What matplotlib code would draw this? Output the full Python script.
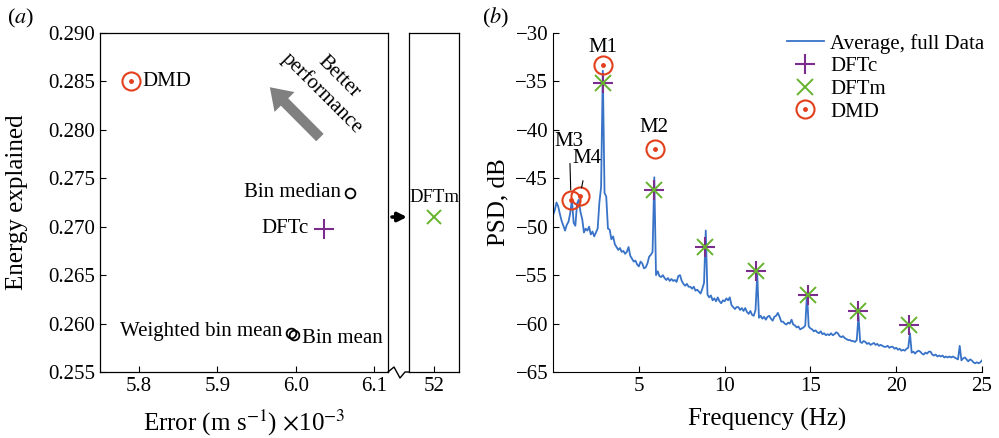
import numpy as np
import matplotlib.pyplot as plt
from matplotlib.lines import Line2D

plt.rcParams['font.family'] = ['Liberation Serif', 'DejaVu Serif']
plt.rcParams['mathtext.fontset'] = 'stix'

# ---- panel (a): error vs energy explained
methods = ["DMD", "Bin median", "DFTc", "Weighted bin mean", "Bin mean"]
err = [5.79, 6.07, 6.036, 5.994, 5.998]
energy = [0.285, 0.2735, 0.2698, 0.2590, 0.2588]
dftm_err = [52.0]
dftm_energy = [0.271]

# ---- panel (b): averaged PSD, one value every 0.1 Hz from 0 to 25 Hz
psd_db = [
    -48.8, -48.3, -47.5, -47.9, -48.7, -49.4, -49.9, -50.4, -49.8, -49.5,
    -48.6, -47.2, -49.6, -49.9, -47.6, -47.2, -48.5, -49.2, -50.6, -50.2,
    -50.4, -50.0, -50.8, -50.5, -51.0, -50.6, -50.2, -47.5, -45.9, -33.9,
    -46.5, -46.9, -50.2, -50.3, -51.3, -51.0, -51.8, -52.1, -52.4, -52.2,
    -52.6, -52.5, -52.8, -52.6, -52.1, -53.0, -53.3, -53.6, -53.5, -53.9,
    -54.1, -53.6, -53.8, -54.3, -54.2, -53.8, -53.1, -52.9, -52.6, -44.9,
    -55.0, -54.6, -55.1, -55.2, -55.0, -55.3, -55.5, -55.3, -55.6, -55.4,
    -55.6, -55.5, -55.7, -55.1, -55.0, -55.6, -55.9, -56.1, -55.9, -56.2,
    -56.2, -56.4, -56.2, -56.6, -56.5, -56.7, -56.9, -56.4, -55.8, -50.4,
    -57.0, -57.3, -57.1, -57.6, -57.4, -57.7, -57.3, -57.7, -57.9, -57.6,
    -57.7, -57.4, -57.6, -57.3, -58.1, -58.3, -58.5, -58.3, -58.3, -58.6,
    -58.4, -58.7, -58.4, -58.8, -59.0, -58.7, -59.1, -59.2, -58.6, -54.9,
    -59.4, -59.2, -59.5, -59.3, -59.6, -59.3, -59.2, -59.5, -59.7, -59.3,
    -59.2, -58.9, -59.3, -59.8, -59.8, -60.0, -60.1, -59.9, -60.0, -59.6,
    -60.1, -60.2, -60.4, -60.3, -60.6, -60.5, -60.4, -60.2, -56.9, -60.3,
    -60.5, -60.6, -60.8, -60.7, -60.9, -61.0, -60.8, -61.1, -61.0, -61.2,
    -61.1, -61.2, -61.0, -61.2, -61.1, -60.9, -61.0, -61.3, -61.4, -61.3,
    -61.5, -61.6, -61.7, -61.7, -61.8, -61.8, -61.9, -61.7, -59.2, -61.9,
    -62.0, -61.8, -61.9, -62.1, -62.0, -62.2, -62.1, -62.0, -62.2, -62.1,
    -62.3, -62.2, -62.3, -62.4, -62.4, -62.3, -62.5, -62.4, -62.4, -62.6,
    -62.5, -62.7, -62.6, -62.8, -62.7, -62.8, -62.6, -62.5, -61.0, -63.0,
    -62.9, -63.1, -62.9, -62.8, -62.9, -63.1, -63.2, -63.0, -63.1, -62.9,
    -62.9, -63.2, -63.3, -63.2, -63.4, -63.3, -63.4, -63.3, -63.5, -63.4,
    -63.5, -63.4, -63.5, -63.4, -63.5, -63.6, -63.7, -62.3, -63.8, -63.6,
    -63.5, -63.7, -63.9, -63.7, -63.8, -64.0, -64.1, -64.0, -64.1, -64.0,
    -63.8,
]
freq = np.linspace(0, 25, len(psd_db))

dft_freq = [2.9, 5.88, 8.85, 11.8, 14.83, 17.78, 20.75]
dftc_db = [-35.2, -46.2, -52.1, -54.55, -57.1, -58.7, -60.1]
dftm_db = [-35.2, -46.2, -52.1, -54.55, -57.1, -58.7, -60.1]
dmd_freq = [2.9, 5.92, 1.07, 1.56]
dmd_db = [-33.3, -42.0, -47.2, -46.8]
mode_names = ["M1", "M2", "M3", "M4"]

red = "#e2401c"
purple = "#7b2d8e"
green = "#66b32e"
blue = "#3873c8"

TICK = 15
LAB = 18
ANN = 15

fig = plt.figure(figsize=(9.99, 4.38), dpi=100)
ax = fig.add_axes([0.1001, 0.1507, 0.2883, 0.774])
axb = fig.add_axes([0.4094, 0.1507, 0.05, 0.774])
ax2 = fig.add_axes([0.5536, 0.1507, 0.4294, 0.774])

# ---- (a)
ax.plot(err[0], energy[0], 'o', ms=13, mfc='none', mec=red, mew=1.5)
ax.plot(err[0], energy[0], 'o', ms=2.5, color=red)
ax.plot(err[1], energy[1], 'o', ms=7, mfc='none', mec='k', mew=1.3)
ax.plot(err[2], energy[2], '+', ms=14, color=purple, mew=1.5)
ax.plot(err[3:], energy[3:], 'o', ms=7, mfc='none', mec='k', mew=1.3)

ax.annotate(methods[0], (err[0], energy[0]), xytext=(8, 0), textcoords='offset points',
            ha='left', va='center', fontsize=ANN)
ax.annotate(methods[1], (err[1], energy[1]), xytext=(-7, 0), textcoords='offset points',
            ha='right', va='center', fontsize=ANN)
ax.annotate(methods[2], (err[2], energy[2]), xytext=(-11, 0), textcoords='offset points',
            ha='right', va='center', fontsize=ANN)
ax.annotate(methods[3], (err[3], energy[3]), xytext=(-6, 1.5), textcoords='offset points',
            ha='right', va='center', fontsize=ANN)
ax.annotate(methods[4], (err[4], energy[4]), xytext=(6, -2.5), textcoords='offset points',
            ha='left', va='center', fontsize=ANN)

ax.annotate('', xy=(5.967, 0.2844), xytext=(6.031, 0.2792),
            arrowprops=dict(arrowstyle='simple,head_length=1.0,head_width=1.35,tail_width=0.5',
                            fc='#808080', ec='none', mutation_scale=15, shrinkA=0, shrinkB=0))
ax.text(6.055, 0.2855, "Better", rotation=-45, ha='center', va='center', fontsize=ANN,
        rotation_mode='anchor')
ax.text(6.034, 0.2838, "performance", rotation=-45, ha='center', va='center', fontsize=ANN,
        rotation_mode='anchor')

ax.set_xlim(5.75, 6.118)
ax.set_ylim(0.255, 0.290)
ax.set_xticks([5.8, 5.9, 6.0, 6.1])
ax.set_xticklabels(["5.8", "5.9", "6.0", "6.1"])
ax.set_yticks([0.255, 0.260, 0.265, 0.270, 0.275, 0.280, 0.285, 0.290])
ax.set_yticklabels(["%.3f" % v for v in ax.get_yticks()])
ax.tick_params(direction='in', length=4, labelsize=TICK)
ax.set_ylabel("Energy explained", fontsize=LAB)
ax.yaxis.set_label_coords(-0.25, 0.5)
ax.set_xlabel(r"Error (m s$^{-1}$) $\times$10$^{-3}$", fontsize=LAB)
ax.xaxis.set_label_coords(0.5, -0.105)

axb.plot(dftm_err, dftm_energy, 'x', ms=10, color=green, mew=1.4)
axb.annotate("DFTm", (dftm_err[0], dftm_energy[0]), xytext=(0, 14), textcoords='offset points',
             ha='center', va='center', fontsize=13.5)
axb.set_xlim(51.5, 52.5)
axb.set_ylim(0.255, 0.290)
axb.set_xticks([52])
axb.set_yticks([])
axb.tick_params(direction='in', length=4, labelsize=TICK)
axb.annotate('', xy=(-0.04, dftm_energy[0]), xytext=(-0.34, dftm_energy[0]),
             xycoords=axb.get_yaxis_transform(), annotation_clip=False,
             arrowprops=dict(arrowstyle='-|>', color='k', lw=2.6, mutation_scale=13,
                             shrinkA=0, shrinkB=0))

# axis break zigzag between the two boxes
zx = np.array([388, 394, 400, 405, 409]) / 999
zy = 1 - np.array([372, 367, 378, 372, 372]) / 438
fig.add_artist(Line2D(zx, zy, color='k', lw=1.0, transform=fig.transFigure))

for a in (ax, axb):
    for s in a.spines.values():
        s.set_linewidth(0.9)

# ---- (b)
ax2.plot(freq, psd_db, color=blue, lw=1.3, label="Average, full Data")
ax2.plot(dft_freq, dftc_db, '+', ms=15, mew=1.5, color=purple, ls='none', label="DFTc")
ax2.plot(dft_freq, dftm_db, 'x', ms=11, mew=1.4, color=green, ls='none', label="DFTm")
h_ring, = ax2.plot(dmd_freq, dmd_db, 'o', ms=13, mfc='none', mec=red, mew=1.5, ls='none')
h_dot, = ax2.plot(dmd_freq, dmd_db, 'o', ms=2.5, color=red, ls='none')

ax2.text(2.93, -31.45, mode_names[0], ha='center', va='center', fontsize=ANN)
ax2.text(5.9, -39.8, mode_names[1], ha='center', va='center', fontsize=ANN)
ax2.annotate(mode_names[2], (1.03, -46.2), xytext=(0.95, -41.2), ha='center', va='center',
             fontsize=ANN, arrowprops=dict(arrowstyle='-', lw=0.8, color='k',
                                           shrinkA=7, shrinkB=0))
ax2.annotate(mode_names[3], (1.66, -46.0), xytext=(2.0, -43.0), ha='center', va='center',
             fontsize=ANN, arrowprops=dict(arrowstyle='-', lw=0.8, color='k',
                                           shrinkA=7, shrinkB=0))

handles, labels = ax2.get_legend_handles_labels()
handles.append((h_ring, h_dot))
labels.append("DMD")
ax2.legend(handles, labels, loc='upper right', bbox_to_anchor=(1.035, 1.035), frameon=False,
           fontsize=ANN, handlelength=1.8, handletextpad=0.3, labelspacing=0.15,
           borderaxespad=0.2)

ax2.set_xlim(0, 25)
ax2.set_ylim(-65, -30)
ax2.set_xticks([5, 10, 15, 20, 25])
ax2.set_yticks([-65, -60, -55, -50, -45, -40, -35, -30])
ax2.spines['top'].set_visible(False)
ax2.spines['right'].set_visible(False)
ax2.tick_params(direction='in', length=4, labelsize=TICK)
ax2.set_xlabel("Frequency (Hz)", fontsize=LAB)
ax2.set_ylabel("PSD, dB", fontsize=LAB)
ax2.xaxis.set_label_coords(0.5, -0.105)

fig.text(0.007, 0.958, r"($a$)", fontsize=16, va='center')
fig.text(0.482, 0.958, r"($b$)", fontsize=16, va='center')

fig.savefig("out.png", dpi=100)
